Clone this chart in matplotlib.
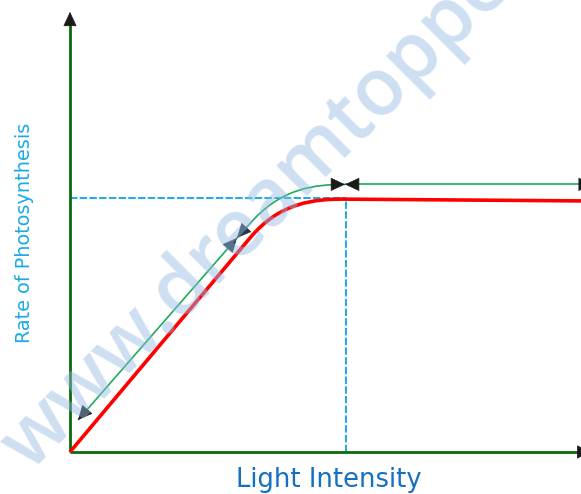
import matplotlib
matplotlib.use("Agg")
import matplotlib.pyplot as plt
import numpy as np
from matplotlib.patches import ArrowStyle, PathPatch
from matplotlib.path import Path

# ---- data (light intensity 0..100, rate 0..100) ----
# red response curve: straight rise, smooth bend (Bezier controls), plateau
red_pts = [(0.0, 0.0), (35.23, 48.64), (41.10, 56.82), (47.95, 57.50), (53.82, 57.45), (100.0, 57.05)]
red_codes = [Path.MOVETO, Path.LINETO, Path.CURVE4, Path.CURVE4, Path.CURVE4, Path.LINETO]

# green double-headed arrows following the curve
seg1_pts = [(1.57, 7.27), (32.68, 48.64)]
seg1_codes = [Path.MOVETO, Path.LINETO]
seg2_pts = [(32.68, 48.64), (35.23, 51.93), (41.29, 60.0), (47.95, 60.80), (53.82, 60.80)]
seg2_codes = [Path.MOVETO, Path.LINETO, Path.CURVE4, Path.CURVE4, Path.CURVE4]
seg3_pts = [(53.82, 60.80), (102.3, 60.80)]
seg3_codes = [Path.MOVETO, Path.LINETO]

sat_x = 54.0
sat_y = 57.7

x_label = "Light Intensity"
y_label = "Rate of Photosynthesis"
watermark = "www.dreamtopper.in"

fig = plt.figure(figsize=(5.81, 4.94), dpi=100)
ax = fig.add_axes([0, 0, 1, 1])
ax.set_xlim(-13.7, 100.0)
ax.set_ylim(-9.55, 102.7)
ax.axis("off")

axis_col = "#0b6b0b"
ax.plot([0, 0], [0, 99.0], color=axis_col, lw=2.0, solid_capstyle="butt", zorder=3)
ax.plot([0, 100], [0, 0], color=axis_col, lw=2.0, solid_capstyle="butt", zorder=3)

dash_col = "#1aabeb"
ax.plot([0, sat_x], [sat_y, sat_y], color=dash_col, lw=1.4, dashes=(3.8, 1.2), zorder=2)
ax.plot([sat_x, sat_x], [0, sat_y], color=dash_col, lw=1.4, dashes=(3.8, 1.2), zorder=2)

ax.add_patch(PathPatch(Path(red_pts, red_codes), facecolor="none", edgecolor="#ff0000",
                       lw=2.6, joinstyle="round", zorder=4))

green = "#1faa5c"
for pts, codes in [(seg1_pts, seg1_codes), (seg2_pts, seg2_codes), (seg3_pts, seg3_codes)]:
    ax.add_patch(PathPatch(Path(pts, codes), facecolor="none", edgecolor=green, lw=1.2,
                           zorder=4, clip_on=False))

fig.canvas.draw()
style = ArrowStyle("-|>", head_length=0.47, head_width=0.22)


def head(tip, toward, color="#1a1a1a"):
    t = ax.transData.transform(tip)
    o = ax.transData.transform(toward)
    d = o - t
    d = d / np.hypot(*d)
    back = d * 12.0
    ax.annotate("", xy=tip, xytext=(back[0], back[1]), textcoords="offset pixels",
                arrowprops=dict(arrowstyle=style, color=color, lw=0.5,
                                mutation_scale=20, shrinkA=0, shrinkB=0),
                zorder=6, annotation_clip=False)


dark2 = "#243447"
head(seg1_pts[0], seg1_pts[1])
head(seg1_pts[-1], seg1_pts[-2], dark2)
head(seg2_pts[0], seg2_pts[1], dark2)
head(seg2_pts[-1], seg2_pts[-2])
head(seg3_pts[0], seg3_pts[1])
head(seg3_pts[-1], seg3_pts[0])
head((0, 100.0), (0, 0))
head((102.0, 0), (0, 0))

fig.text(25 / 581, 1 - 233 / 494, y_label, rotation=90, ha="center", va="center",
         color="#1aa9e8", fontsize=13.9, family="DejaVu Sans")
fig.text(329 / 581, 1 - 480 / 494, x_label, ha="center", va="center",
         color="#1570c0", fontsize=18.6, family="DejaVu Sans")

fig.text(30 / 581, 1 - 473 / 494, watermark, rotation=45, rotation_mode="anchor",
         ha="left", va="baseline", fontsize=57, color="#94b9e4", alpha=0.46,
         family="Open Sans", fontweight="semibold", zorder=20)

fig.savefig("out.png", dpi=100)
